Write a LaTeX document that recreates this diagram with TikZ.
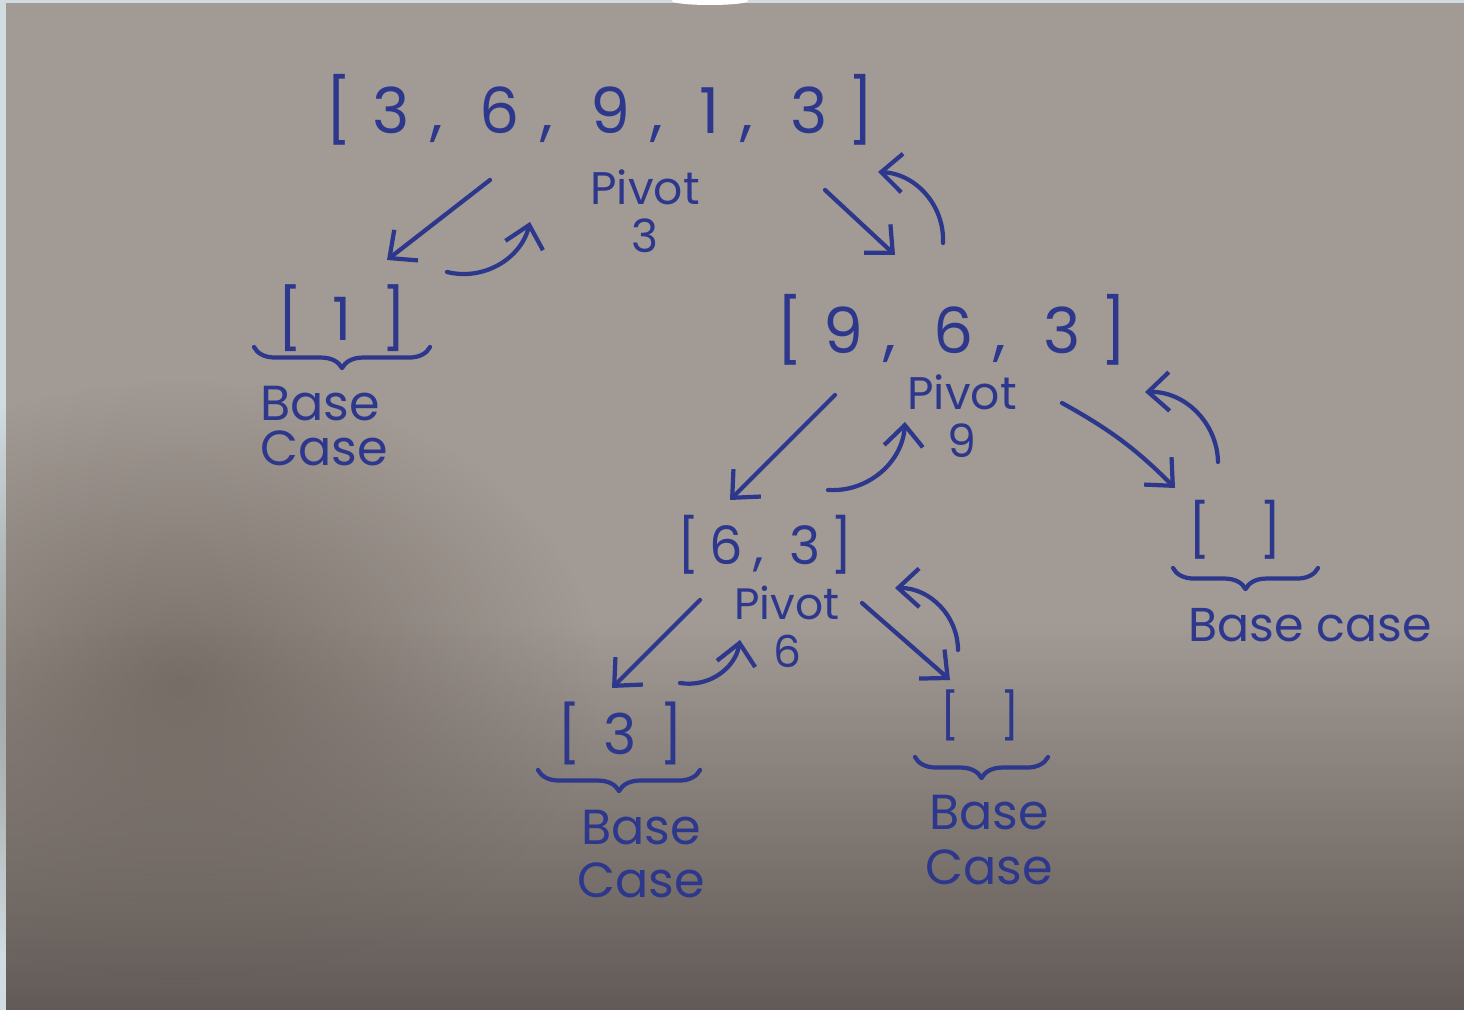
\documentclass[tikz,border=0pt]{standalone}
\usepackage{fontspec}
\setmainfont{Poppins}
\usetikzlibrary{calc,arrows.meta,decorations.pathreplacing,fadings}
\definecolor{inkc}{RGB}{45,55,140}
\definecolor{paper}{RGB}{162,154,148}
\definecolor{paperdark}{RGB}{98,90,86}
\definecolor{shadowc}{RGB}{100,90,84}
\definecolor{framec}{RGB}{208,220,224}
\tikzfading[name=softblob, inner color=transparent!35, outer color=transparent!100]
\tikzset{
  ink/.style={draw=inkc, line width=1.2pt, line cap=round, line join=round},
  arr/.style={ink, -{Straight Barb[length=6pt,width=11pt,line width=1.2pt]}},
  back/.style={arr, bend right=45},
  ubrace/.style={ink, decorate, decoration={brace, mirror, amplitude=6pt}},
  lst/.style={text=inkc, inner sep=0pt, font=\fontsize{18}{20}\selectfont\addfontfeatures{LetterSpace=32}},
  pivotlbl/.style={text=inkc, inner sep=0pt, align=center, font=\fontsize{13}{13.5}\selectfont},
  baselbl/.style={text=inkc, inner sep=0pt, align=center, font=\fontsize{14}{13}\selectfont},
}
\begin{document}
\begin{tikzpicture}[x=0.01cm,y=0.01cm]
\useasboundingbox (0,-1010) rectangle (1464,0);
% background
\fill[framec] (0,-1010) rectangle (1464,0);
\fill[paper] (6,-1010) rectangle (1464,-3);
\shade[top color=paper, bottom color=paperdark] (6,-1010) rectangle (1464,-620);
\fill[shadowc, path fading=softblob] (180,-680) ellipse (420 and 300);
\fill[white] (710,-1) ellipse (38 and 4);
% nodes
\node[lst] (top) at (600,-110) {[3, 6, 9, 1, 3]};
\node[pivotlbl] (pv3) at (645,-211) {Pivot\\3};
\node[lst, font=\fontsize{17}{20}\selectfont\addfontfeatures{LetterSpace=50}] (n1) at (342,-318) {[1]};
\node[baselbl, align=left] (b1) at (324,-426) {Base\\Case};
\node[lst] (n963) at (952,-330) {[9, 6, 3]};
\node[pivotlbl] (pv9) at (962,-416) {Pivot\\9};
\node[lst, font=\fontsize{15}{18}\selectfont\addfontfeatures{LetterSpace=20}] (n63) at (765,-545) {[6, 3]};
\node[lst, font=\fontsize{15}{18}\selectfont] (nE1) at (1235,-530) {[ \hspace{10pt}]};
\node[baselbl, font=\fontsize{13.5}{13}\selectfont] (bE1) at (1310,-625) {Base case};
\node[pivotlbl, font=\fontsize{12.5}{13.5}\selectfont] (pv6) at (787,-627) {Pivot\\6};
\node[lst, font=\fontsize{16}{18}\selectfont\addfontfeatures{LetterSpace=40}] (n3) at (620,-733) {[3]};
\node[baselbl, font=\fontsize{14}{15}\selectfont] (b3) at (641,-854) {Base\\Case};
\node[lst, font=\fontsize{13}{16}\selectfont] (nE2) at (980,-715) {[ \hspace{8pt}]};
\node[baselbl, font=\fontsize{14}{15.5}\selectfont] (bE2) at (989,-840) {Base\\Case};
% calls and returns
\draw[arr] ($(top)+(-110,-70)$) -- ($(n1)+(45,58)$);
\draw[back] ($(n1)+(105,46)$) to ($(top)+(-70,-112)$);
\draw[arr] ($(top)+(225,-80)$) -- ($(n963)+(-57,75)$);
\draw[back] ($(n963)+(-9,87)$) to ($(top)+(278,-62)$);
\draw[arr] ($(n963)+(-117,-65)$) -- ($(n63)+(-35,45)$);
\draw[back] ($(n63)+(63,55)$) to ($(n963)+(-47,-92)$);
\draw[arr] ($(n963)+(110,-73)$) to[bend left=8] ($(nE1)+(-60,42)$);
\draw[back] ($(nE1)+(-17,68)$) to ($(n963)+(193,-62)$);
\draw[arr] ($(n63)+(-65,-55)$) -- ($(n3)+(-8,45)$);
\draw[back] ($(n3)+(60,50)$) to ($(n63)+(-25,-95)$);
\draw[arr] ($(n63)+(97,-58)$) -- ($(nE2)+(-30,35)$);
\draw[back] ($(nE2)+(-22,65)$) to ($(n63)+(130,-43)$);
% braces
\draw[ubrace] ($(n1)+(-88,-29)$) -- ($(n1)+(88,-29)$);
\draw[ubrace] ($(nE1)+(-62,-38)$) -- ($(nE1)+(83,-38)$);
\draw[ubrace] ($(n3)+(-82,-37)$) -- ($(n3)+(80,-37)$);
\draw[ubrace] ($(nE2)+(-65,-42)$) -- ($(nE2)+(68,-42)$);
\end{tikzpicture}
\end{document}
